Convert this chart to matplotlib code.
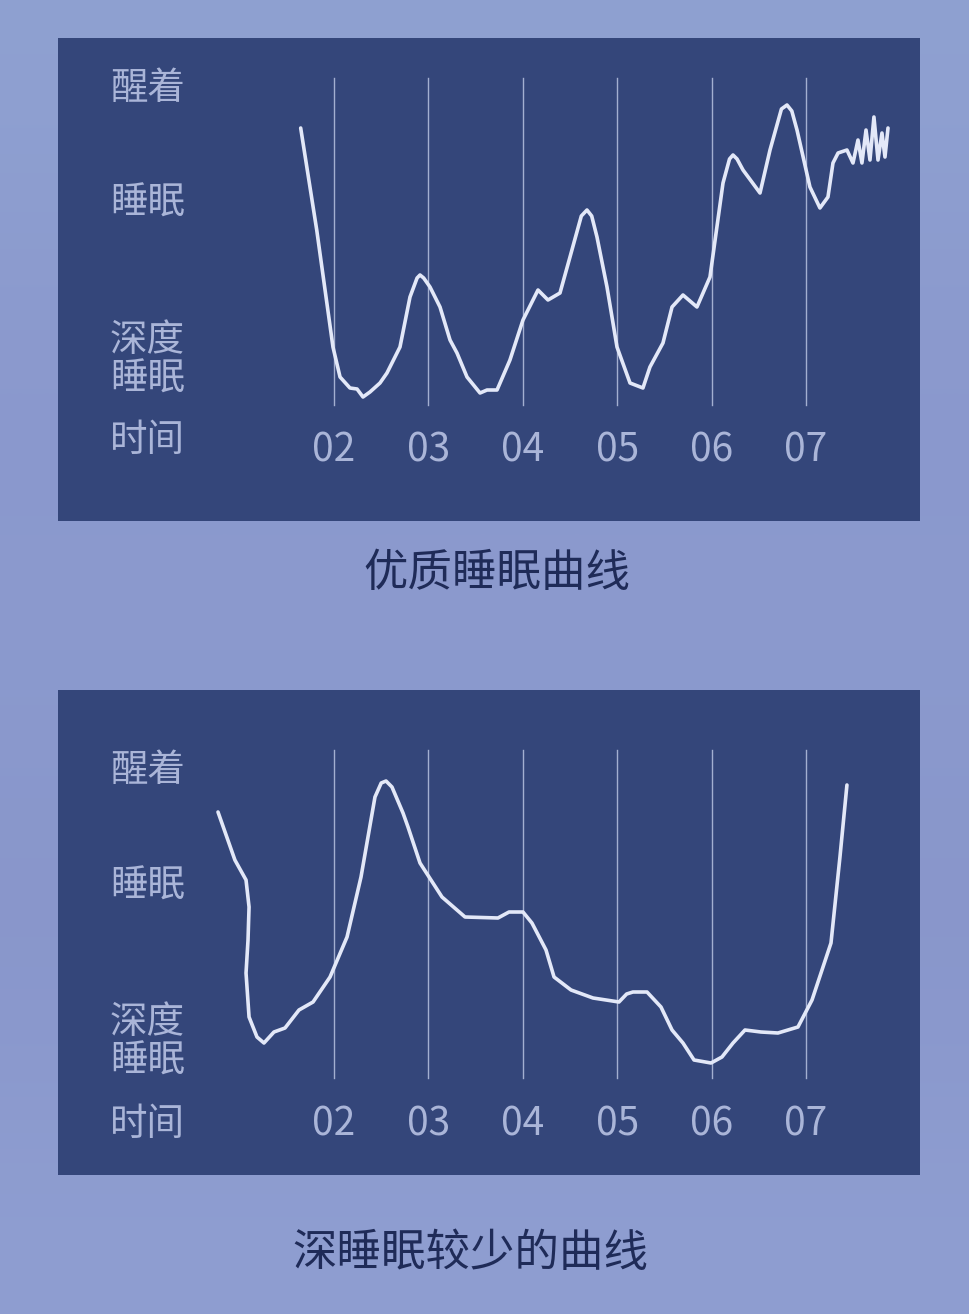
import matplotlib
matplotlib.use("Agg")
import matplotlib.pyplot as plt
import numpy as np

plt.rcParams['font.family'] = ['Noto Sans CJK SC', 'DejaVu Sans']

# x in hours, y = height above the panel floor (px-like units)
good_hours = [1.647, 1.817, 1.989, 2.064, 2.169, 2.244, 2.307, 2.381, 2.487, 2.561,
              2.699, 2.805, 2.880, 2.911, 2.950, 3.017, 3.123, 3.229, 3.303, 3.409,
              3.547, 3.621, 3.727, 3.864, 4.002, 4.161, 4.267, 4.394, 4.500, 4.620,
              4.680, 4.730, 4.786, 4.892, 4.998, 5.136, 5.273, 5.347, 5.485, 5.581,
              5.697, 5.845, 5.983, 6.121, 6.190, 6.227, 6.270, 6.333, 6.513, 6.619,
              6.740, 6.799, 6.850, 6.905, 7.042, 7.148, 7.233, 7.286, 7.340, 7.434,
              7.498, 7.551, 7.593, 7.636, 7.678, 7.720, 7.763, 7.805, 7.837, 7.869]
good_depth = [393, 291, 174, 144, 133, 132, 124, 129, 138, 148,
              174, 224, 243, 246, 243, 234, 214, 181, 168, 144,
              128, 131, 131, 161, 201, 231, 221, 228, 264, 305,
              311, 305, 284, 234, 174, 138, 133, 154, 178, 214,
              226, 214, 244, 338, 362, 366, 362, 351, 328, 371,
              412, 416, 410, 391, 334, 313, 324, 358, 368, 371,
              358, 381, 358, 391, 361, 404, 361, 388, 364, 393]

poor_hours = [0.771, 0.950, 1.068, 1.100, 1.089, 1.068, 1.100, 1.184, 1.258, 1.364,
              1.481, 1.629, 1.778, 1.958, 2.138, 2.286, 2.434, 2.500, 2.551, 2.614,
              2.731, 2.784, 2.911, 3.144, 3.388, 3.737, 3.854, 4.002, 4.097, 4.246,
              4.331, 4.511, 4.744, 5.019, 5.100, 5.167, 5.316, 5.464, 5.581, 5.697,
              5.814, 5.994, 6.110, 6.227, 6.354, 6.523, 6.703, 6.915, 7.064, 7.265,
              7.360, 7.434]
poor_depth = [363, 315, 295, 268, 235, 202, 158, 138, 132, 143,
              147, 165, 173, 198, 238, 298, 378, 392, 394, 388,
              362, 348, 312, 278, 258, 257, 263, 263, 252, 225,
              198, 185, 177, 173, 181, 183, 183, 168, 145, 132,
              115, 112, 118, 132, 145, 143, 142, 148, 175, 232,
              318, 390]

hour_ticks = [2, 3, 4, 5, 6, 7]
hour_labels = ["02", "03", "04", "05", "06", "07"]
row_labels = ["醒着", "睡眠", "深度\n睡眠", "时间"]
titles = ["优质睡眠曲线", "深睡眠较少的曲线"]

panel = '#34467a'
curve = '#e3e8f8'
label_c = '#aab5d8'
title_c = '#1f2b58'

fig = plt.figure(figsize=(9.7, 13.14), dpi=100)
fig.patch.set_facecolor('#8d9bcf')

# soft background wash, lighter at the edges
bg_ax = fig.add_axes([0, 0, 1, 1], zorder=-10)
bg_ax.axis('off')
grad = np.array([[0.56, 0.63, 0.82], [0.54, 0.59, 0.80], [0.55, 0.61, 0.81],
                 [0.53, 0.58, 0.79], [0.56, 0.62, 0.82]])
bg_ax.imshow(grad.reshape(5, 1, 3), aspect='auto', extent=[0, 1, 0, 1],
             interpolation='bicubic')

W, H = 970, 1314


def make_panel(top, bottom, hours, depth, grid_top, grid_bot, row_y, tick_y, title, title_x, title_y):
    ax = fig.add_axes([58 / W, (H - bottom) / H, 862 / W, (bottom - top) / H])
    ax.set_facecolor(panel)
    ax.set_xlim(-0.924, 8.208)
    ax.set_ylim(0, bottom - top)
    for s in ax.spines.values():
        s.set_visible(False)
    ax.set_xticks([])
    ax.set_yticks([])
    for h in hour_ticks:
        ax.plot([h, h], [grid_bot, grid_top], color='#b8c2e0', lw=1.0, alpha=0.85)
    ax.plot(hours, depth, color=curve, lw=2.6, solid_joinstyle='round', solid_capstyle='round')
    for h, lab in zip(hour_ticks, hour_labels):
        ax.text(h, tick_y, lab, ha='center', va='center', color=label_c,
                fontsize=28, fontweight='light')
    for y, lab in zip(row_y, row_labels):
        ax.text(-0.373, y, lab, ha='left', va='center', color=label_c,
                fontsize=27, fontweight='light', linespacing=1.0)
    fig.text(title_x / W, 1 - title_y / H, title, ha='center', va='center',
             color=title_c, fontsize=32)
    return ax


make_panel(38, 521, good_hours, good_depth, 443, 116,
           [433, 318, 161, 81], 71, titles[0], 497, 573)
make_panel(690, 1175, poor_hours, poor_depth, 425, 97,
           [405, 289, 133, 50], 50, titles[1], 470, 1253)

fig.savefig("out.png", dpi=100)
